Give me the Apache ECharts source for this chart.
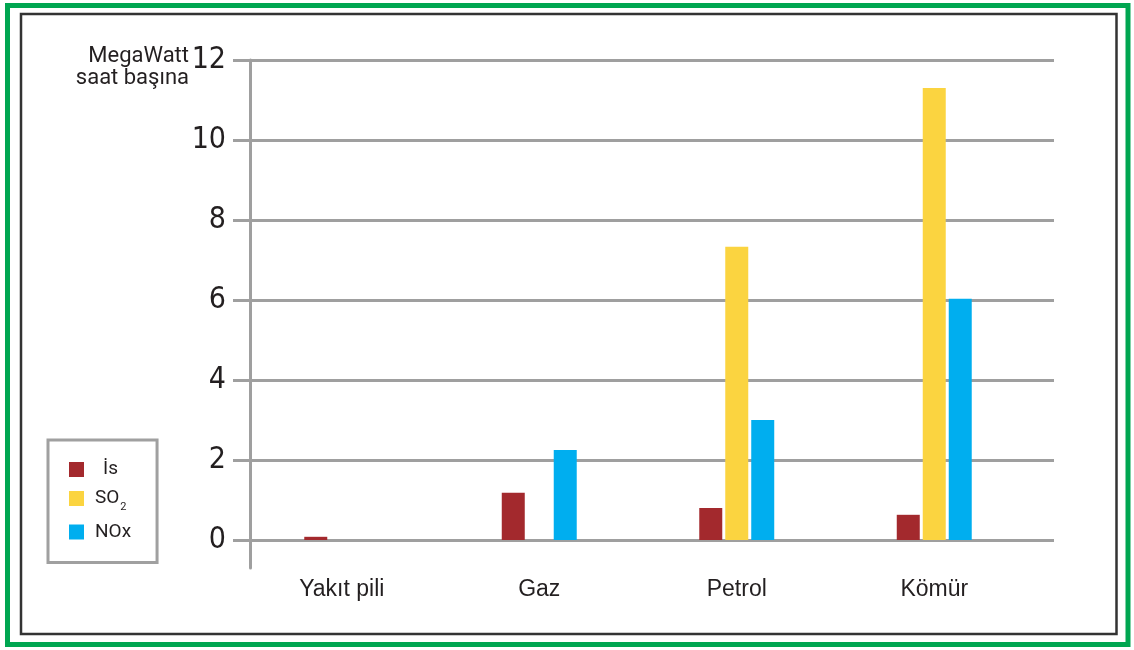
<!DOCTYPE html>
<html>
<head>
<meta charset="utf-8">
<script src="https://cdn.jsdelivr.net/npm/echarts@6/dist/echarts.min.js"></script>
<style>
  html, body { margin: 0; padding: 0; background: #ffffff; }
  #chart { width: 1134px; height: 650px; }
</style>
</head>
<body>
<div id="chart"></div>
<script>
// Emissions per megawatt-hour by energy source
const categories = ['Yakıt pili', 'Gaz', 'Petrol', 'Kömür'];
const sootValues = [0.08, 1.18, 0.8, 0.63];      // İs
const so2Values  = [null, null, 7.33, 11.3];      // SO₂
const noxValues  = [null, 2.25, 3.0, 6.03];       // NOx
const yTicks = [0, 2, 4, 6, 8, 10, 12];
const seriesNames = ['İs', 'SO₂', 'NOx'];

const GRID_GRAY = '#9f9f9f';
const TEXT = '#231f20';
const NARROW = "'Liberation Sans Narrow', 'DejaVu Sans Condensed', Roboto, sans-serif";

const chart = echarts.init(document.getElementById('chart'), null, { renderer: 'canvas' });

const barBase = {
  type: 'bar',
  xAxisIndex: 1,
  yAxisIndex: 1,
  barWidth: 23,
  barGap: '13%'
};

chart.setOption({
  backgroundColor: '#ffffff',
  animation: false,
  grid: [
    { left: 250, right: 80, top: 60, bottom: 82 },
    { left: 243, right: 101, top: 60, bottom: 82 }
  ],
  xAxis: [
    { type: 'value', gridIndex: 0, min: 0, max: 1, show: false },
    {
      type: 'category', gridIndex: 1, data: categories,
      axisLine: { show: false }, axisTick: { show: false },
      axisLabel: { margin: 10, color: TEXT, fontSize: 23, fontFamily: "'Liberation Sans', Arial, sans-serif" }
    }
  ],
  yAxis: [
    {
      type: 'value', gridIndex: 0, min: -0.7, max: 12,
      axisLine: { show: true, lineStyle: { color: GRID_GRAY, width: 3 } },
      axisTick: { show: true, customValues: yTicks, length: 17, lineStyle: { color: GRID_GRAY, width: 3 } },
      axisLabel: { customValues: yTicks, margin: 24, color: TEXT, fontSize: 30, fontFamily: NARROW },
      splitLine: { show: true, lineStyle: { color: GRID_GRAY, width: 3 } }
    },
    { type: 'value', gridIndex: 1, min: -0.7, max: 12, show: false, splitLine: { show: false } }
  ],
  legend: {
    orient: 'vertical',
    left: 48, top: 440,
    padding: [20, 26, 21, 21],
    borderColor: '#a0a0a0', borderWidth: 3,
    itemWidth: 15, itemHeight: 15, itemGap: 10,
    icon: 'rect',
    data: seriesNames,
    formatter: function (name) {
      if (name === 'İs') return '{ind|İs}';
      if (name === 'SO₂') return '{t|SO}{sub|2}';
      return '{t|' + name + '}';
    },
    textStyle: {
      color: TEXT, fontSize: 19, fontFamily: 'Roboto, sans-serif', lineHeight: 18,
      rich: {
        t: { fontSize: 19, fontFamily: 'Roboto, sans-serif', padding: [0, 0, 0, 6], color: TEXT },
        ind: { fontSize: 19, fontFamily: 'Roboto, sans-serif', padding: [0, 0, 0, 14], color: TEXT },
        sub: { fontSize: 11, fontFamily: 'Roboto, sans-serif', verticalAlign: 'bottom', padding: [0, 0, -5, 1], color: TEXT }
      }
    }
  },
  graphic: [
    {
      type: 'rect', silent: true,
      shape: { x: 7.5, y: 5.5, width: 1120.5, height: 639 },
      style: { fill: 'none', stroke: '#00a651', lineWidth: 5 }
    },
    {
      type: 'rect', silent: true,
      shape: { x: 21, y: 14, width: 1095.5, height: 620 },
      style: { fill: 'none', stroke: '#333333', lineWidth: 2.5 }
    },
    {
      type: 'text', silent: true,
      x: 189, y: 45,
      style: {
        text: 'MegaWatt\nsaat başına',
        align: 'right', verticalAlign: 'top',
        fill: TEXT, fontSize: 22, lineHeight: 22, fontFamily: 'Roboto, sans-serif'
      }
    }
  ],
  series: [
    Object.assign({}, barBase, { name: seriesNames[0], data: sootValues, itemStyle: { color: '#a3292d' } }),
    Object.assign({}, barBase, { name: seriesNames[1], data: so2Values, itemStyle: { color: '#fbd440' } }),
    Object.assign({}, barBase, { name: seriesNames[2], data: noxValues, itemStyle: { color: '#00aeef' } })
  ]
});
</script>
</body>
</html>
